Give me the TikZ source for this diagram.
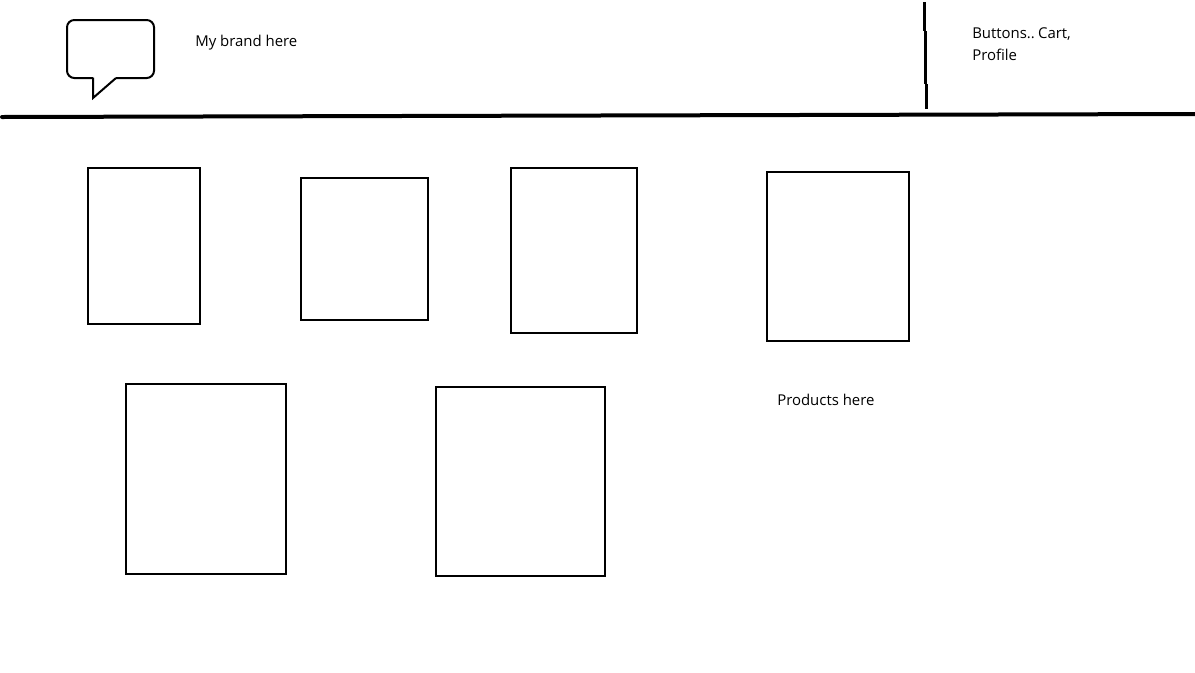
\documentclass[tikz,border=0pt]{standalone}
\usepackage{fontspec}
\setmainfont{Open Sans}

\tikzset{
  px/.style={x=0.75pt,y=-0.75pt},
  product/.style={draw,line width=1.5pt,inner sep=0pt,outer sep=0pt},
  label/.style={inner sep=0pt,anchor=west,font=\fontsize{11.2pt}{16.5pt}\selectfont,align=left},
  rule/.style={line width=3pt,line cap=round},
  sepline/.style={line width=2.4pt}
}

\begin{document}
\begin{tikzpicture}
  [px]
  \useasboundingbox (0,0) rectangle (1195,672);
  % header
  \coordinate (ruleL) at (2,117);
  \coordinate (ruleR) at (1195,114);
  \coordinate (sep1) at (924.5,2);
  \coordinate (sep2) at (924.5,31);
  \coordinate (sep3) at (925.5,31);
  \coordinate (sep4) at (925.5,84);
  \coordinate (sep5) at (926.5,84);
  \coordinate (sep6) at (926.5,109);
  \draw[rule] (ruleL) -- (ruleR);
  \foreach \from/\to in {sep1/sep2,sep3/sep4,sep5/sep6}
    \draw[sepline] (\from) -- (\to);
  \draw[line width=1.5pt,rounded corners=5.5pt] (93,78) -- (67,78) -- (67,20) -- (154,20) -- (154,78) -- (116,78);
  \draw[line width=1.5pt,line join=miter] (93,77.5) -- (93,98) -- (116,78);
  \node[label] (brand) at (195,42.5) {My brand here};
  \node[label] (buttons) at (972,44) {Buttons..\hspace{-1.5pt} Cart,\\Profile};
  % products
  \node[product,minimum width=84pt,minimum height=117pt] (p1) at (144,246) {};
  \node[product,minimum width=95.25pt,minimum height=106.5pt] (p2) at (364.5,248.5) {};
  \node[product,minimum width=94.5pt,minimum height=123.75pt] (p3) at (574,250.5) {};
  \node[product,minimum width=106.5pt,minimum height=126.75pt] (p4) at (838,256.5) {};
  \node[product,minimum width=120pt,minimum height=142.5pt] (p5) at (206,479) {};
  \node[product,minimum width=126.75pt,minimum height=141.75pt] (p6) at (520.5,481.5) {};
  \node[label] (products) at (777,400) {Products here};
\end{tikzpicture}
\end{document}
